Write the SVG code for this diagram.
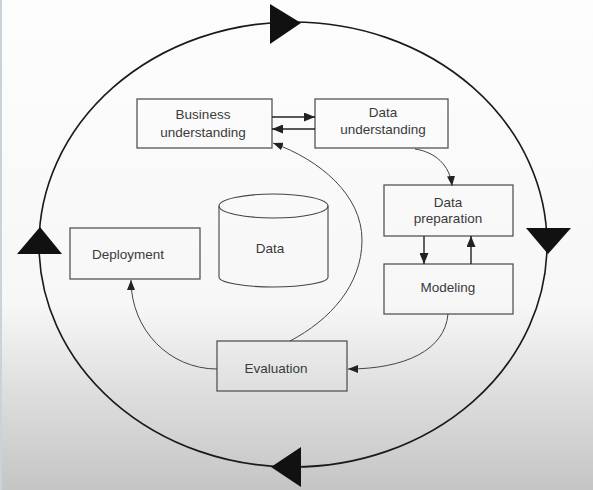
<svg xmlns="http://www.w3.org/2000/svg" width="593" height="490" viewBox="0 0 593 490">
<defs>
<linearGradient id="bg" x1="0" y1="0" x2="0" y2="1">
<stop offset="0" stop-color="#fdfdfd"/>
<stop offset="0.62" stop-color="#f7f7f7"/>
<stop offset="0.8" stop-color="#dedede"/>
<stop offset="1" stop-color="#c5c5c5"/>
</linearGradient>
<marker id="ah" markerWidth="11" markerHeight="9" refX="11" refY="4.5" orient="auto" markerUnits="userSpaceOnUse">
<path d="M0,0 L11,4.5 L0,9 Z" fill="#222"/>
</marker>
<marker id="ahs" markerWidth="10" markerHeight="8" refX="10" refY="4" orient="auto" markerUnits="userSpaceOnUse">
<path d="M0,0 L10,4 L0,8 Z" fill="#222"/>
</marker>
</defs>
<style>
.box{fill:none;stroke:#555;stroke-width:1.3}
.lbl{font-family:"Liberation Sans",Arial,sans-serif;font-size:13.5px;fill:#3a3a3a;text-anchor:middle}
.cyc{fill:none;stroke:#1a1a1a;stroke-width:1.6}
.tri{fill:#111}
.arr{fill:none;stroke:#222;stroke-width:1.4}
.crv{fill:none;stroke:#444;stroke-width:1}
</style>
<rect x="0" y="0" width="593" height="490" fill="url(#bg)"/>
<rect x="0" y="0" width="2" height="490" fill="#c9d3d8"/>
<g id="cycle">
<ellipse class="cyc" cx="293" cy="244.5" rx="254" ry="222.5"/>
<polygon class="tri" points="270,4 270,44 301,23"/>
<polygon class="tri" points="526,228 571,228 548,254"/>
<polygon class="tri" points="301,447 301,487 271,467"/>
<polygon class="tri" points="17,254 62,254 40,227"/>
</g>
<g id="business">
<rect class="box" x="137" y="99" width="135" height="49"/>
<text class="lbl" x="203" y="119">Business</text>
<text class="lbl" x="203" y="137">understanding</text>
</g>
<g id="dataunderstanding">
<rect class="box" x="315" y="99" width="133" height="49"/>
<text class="lbl" x="383" y="117">Data</text>
<text class="lbl" x="383" y="134">understanding</text>
</g>
<g id="datapreparation">
<rect class="box" x="384" y="185" width="129" height="51"/>
<text class="lbl" x="448" y="207">Data</text>
<text class="lbl" x="448" y="223">preparation</text>
</g>
<g id="modeling">
<rect class="box" x="384" y="264" width="129" height="50"/>
<text class="lbl" x="448" y="292">Modeling</text>
</g>
<g id="evaluation">
<rect class="box" x="217" y="341" width="130" height="50"/>
<text class="lbl" x="276" y="373">Evaluation</text>
</g>
<g id="deployment">
<rect class="box" x="70" y="228" width="130" height="51"/>
<text class="lbl" x="128" y="259">Deployment</text>
</g>
<g id="data">
<path d="M219,206 L219,277 A54.5,10 0 0 0 328,277 L328,206" fill="none" stroke="#444" stroke-width="1.1"/>
<ellipse cx="273.5" cy="206" rx="54.5" ry="12" fill="none" stroke="#444" stroke-width="1.1"/>
<text class="lbl" x="270" y="253">Data</text>
</g>
<g id="connectors">
<path class="arr" d="M272,117 L315,117" marker-end="url(#ah)"/>
<path class="arr" d="M315,129 L272,129" marker-end="url(#ah)"/>
<path class="arr" d="M424,236 L424,264" marker-end="url(#ah)"/>
<path class="arr" d="M471,264 L471,236" marker-end="url(#ah)"/>
<path class="crv" d="M415,149 C435,152 450,165 452,186" marker-end="url(#ahs)"/>
<path class="crv" d="M448,314 C445,350 405,369 348,369" marker-end="url(#ahs)"/>
<path class="crv" d="M290,341 C330,320 362,285 362,240 C362,195 320,160 273,143" marker-end="url(#ahs)"/>
<path class="crv" d="M217,369 C169.5,369 131,330 131,280" marker-end="url(#ahs)"/>
</g>
</svg>
